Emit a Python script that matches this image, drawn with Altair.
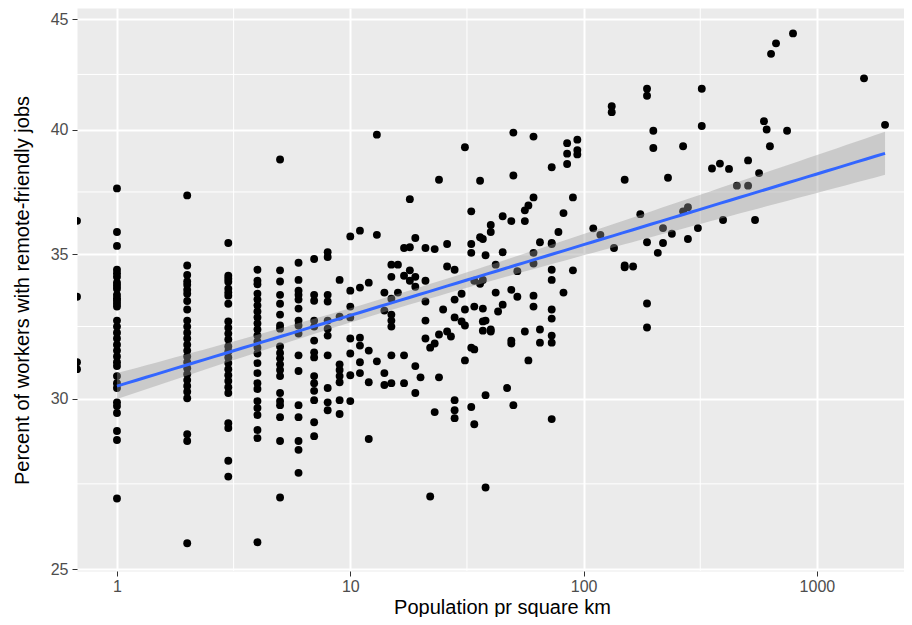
import altair as alt
import numpy as np
import pandas as pd

# Population density (per square km) -> percent of workers with remote-friendly jobs
groups = {
    0: [36.28, 33.45, 31.19, 30.96],
    1: [37.56, 35.85, 35.32, 34.43, 34.30, 34.17, 33.96, 33.85, 33.74, 33.52, 33.40, 33.31,
        33.20, 33.10, 32.61, 32.40, 32.19, 31.99, 31.78, 31.58, 31.38, 31.19, 31.06, 30.73,
        30.50, 30.34, 29.88, 29.76, 29.54, 28.98, 28.70, 26.96],
    2: [37.28, 34.59, 34.24, 34.00, 33.88, 33.70, 33.56, 33.30, 33.00, 32.61, 32.40, 32.19,
        31.99, 31.78, 31.58, 31.38, 31.19, 30.99, 30.79, 30.60, 30.41, 30.22, 30.01, 28.88,
        28.67, 25.70],
    3: [35.43, 34.21, 34.10, 33.99, 33.74, 33.60, 33.49, 33.20, 32.58, 32.36, 32.16, 31.96,
        31.72, 31.55, 31.35, 31.16, 30.96, 30.76, 30.57, 30.37, 30.18, 29.22, 29.07, 28.07,
        27.60],
    4: [34.43, 34.03, 33.90, 33.56, 33.35, 33.14, 32.93, 32.72, 32.51, 32.30, 32.09, 31.89,
        31.68, 31.48, 31.16, 30.83, 30.50, 30.31, 29.92, 29.70, 29.48, 29.01, 28.76, 25.73],
    5: [38.74, 34.41, 34.00, 33.52, 33.20, 32.82, 32.44, 32.33, 31.72, 31.50, 31.32, 31.12,
        30.93, 30.73, 30.18, 29.92, 29.79, 29.41, 28.67, 26.99],
    6: [34.69, 34.06, 33.67, 33.52, 33.35, 33.03, 32.61, 32.44, 32.16, 31.42, 30.90, 29.79,
        29.41, 28.67, 28.40, 27.71],
    7: [34.83, 33.52, 33.31, 32.61, 32.40, 31.92, 31.52, 31.35, 30.73, 30.50, 30.25, 29.95,
        29.25, 28.82],
    8: [35.08, 34.90, 33.52, 33.28, 32.61, 32.33, 32.09, 31.42, 30.34, 29.88, 29.63],
    9: [34.06, 32.75, 31.12, 30.93, 30.73, 30.53, 29.95, 29.51],
    10: [35.68, 33.67, 33.10, 32.72, 31.99, 31.48, 30.76, 29.92],
    11: [35.90, 33.78, 32.02, 31.75, 31.19, 30.83],
    12: [33.96, 31.58, 30.53, 28.73],
    13: [39.78, 35.74, 31.22],
    14: [33.60, 32.96, 30.83, 30.44],
    15: [34.62, 34.17, 33.38, 32.82, 32.61, 32.40, 31.42, 30.50],
    16: [34.62, 33.60],
    17: [35.24, 34.21, 31.42, 30.50],
    18: [37.13, 35.27, 34.41, 34.03],
    19: [35.62, 34.17, 33.81, 31.06, 30.18],
    20: [30.69],
    21: [35.24, 34.03, 33.28, 32.61, 31.99],
    22: [31.68, 27.02],
    23: [31.82, 35.20, 29.57],
    24: [37.91, 32.13, 30.69],
    25: [33.00],
    26: [35.39, 34.55, 32.23],
    27: [32.06],
    28: [34.43, 33.35, 32.72, 29.95, 29.63, 29.38],
    30: [33.56, 32.58],
    31: [39.25, 33.00, 32.44, 31.25],
    33: [36.65, 35.39, 35.06, 31.68, 29.73],
    34: [31.62, 34.03, 33.10, 29.19],
    36: [37.87, 35.65, 33.92],
    37: [35.58, 34.06, 33.03, 32.58, 32.26],
    38: [34.97, 32.61, 30.11, 27.28],
    40: [36.12, 35.85, 32.30, 32.23],
    42: [34.62, 33.60],
    43: [32.93],
    45: [36.46, 35.08, 33.17],
    47: [30.34],
    49: [36.27, 33.70, 31.92, 31.82],
    50: [39.87, 38.08, 29.79],
    52: [34.38, 33.45],
    56: [36.69, 36.27, 32.23],
    58: [36.88, 31.25],
    61: [37.20, 35.06, 34.66, 33.49, 33.10, 39.70],
    65: [35.46, 32.30, 31.85],
    73: [35.39, 35.43, 34.43, 34.06, 33.00, 32.68, 32.09, 31.85, 38.42, 29.35],
    78: [35.85],
    82: [33.60, 36.58],
    85: [39.42, 38.98, 38.55],
    90: [37.20, 34.41],
    94: [39.57, 39.13, 38.95],
    110: [35.99],
    118: [35.74],
    132: [41.01, 40.75],
    135: [35.24],
    150: [34.52, 34.59, 37.91],
    163: [34.55],
    175: [36.54],
    187: [35.46, 33.21, 32.37, 41.78, 41.47],
    199: [39.95, 39.22],
    208: [35.06],
    219: [36.00, 35.43],
    230: [37.99],
    239: [35.78],
    267: [36.65, 39.29],
    280: [36.81, 35.58],
    309: [36.00],
    321: [41.78, 40.15],
    355: [38.37],
    384: [38.57],
    396: [36.31],
    420: [38.35],
    454: [37.67],
    507: [38.70, 37.67],
    543: [36.31],
    565: [38.18],
    593: [40.36],
    609: [40.00],
    629: [39.29],
    636: [43.37],
    668: [43.86],
    745: [39.95],
    790: [44.33],
    1592: [42.25],
    1959: [40.20],
}

x_ticks = [1, 10, 100, 1000]
y_ticks = [25, 30, 35, 40, 45]
x_domain = [0.674, 2362]
y_domain = [24.95, 45.55]

density = []
pct = []
for k, vals in groups.items():
    for v in vals:
        density.append(k)
        pct.append(v)
df = pd.DataFrame({"density": density, "pct": pct})

# linear model on log10-log10 scale with 95% confidence band (like geom_smooth(method="lm"))
fit = df[df.density > 0]
X = np.log10(fit.density.values.astype(float))
Y = np.log10(fit.pct.values)
n = len(X)
b, a = np.polyfit(X, Y, 1)
resid = Y - (a + b * X)
s = np.sqrt((resid ** 2).sum() / (n - 2))
sxx = ((X - X.mean()) ** 2).sum()
grid = np.linspace(X.min(), X.max(), 80)
pred = a + b * grid
se = s * np.sqrt(1.0 / n + (grid - X.mean()) ** 2 / sxx)
tq = 1.967
band = pd.DataFrame({
    "density": 10 ** grid,
    "fit": 10 ** pred,
    "lo": 10 ** (pred - tq * se),
    "hi": 10 ** (pred + tq * se),
})

# minor breaks at the geometric midpoints (ggplot log scales)
x_minor = pd.DataFrame({"v": [np.sqrt(x_ticks[i] * x_ticks[i + 1]) for i in range(len(x_ticks) - 1)]})
y_minor = pd.DataFrame({"v": [np.sqrt(y_ticks[i] * y_ticks[i + 1]) for i in range(len(y_ticks) - 1)]})

FONT = "Liberation Sans"
xs = alt.Scale(type="log", domain=x_domain, nice=False)
ys = alt.Scale(type="log", domain=y_domain, nice=False)

x_axis = alt.Axis(values=x_ticks, format="d", grid=True, gridColor="white", gridWidth=2,
                  domain=False, tickColor="#333333", tickSize=5, tickWidth=1,
                  labelColor="#4D4D4D", labelFontSize=16, labelFont=FONT, labelPadding=2,
                  title="Population pr square km", titleFont=FONT, titleFontSize=20,
                  titleFontWeight="normal", titleColor="black",
                  titleX=425, titleY=42, titleBaseline="alphabetic", titleAlign="center")
y_axis = alt.Axis(values=y_ticks, format="d", grid=True, gridColor="white", gridWidth=2,
                  domain=False, tickColor="#333333", tickSize=5, tickWidth=1,
                  labelColor="#4D4D4D", labelFontSize=16, labelFont=FONT, labelPadding=4,
                  title="Percent of workers with remote-friendly jobs", titleFont=FONT,
                  titleFontSize=20, titleFontWeight="normal", titleColor="black",
                  titleX=-55, titleY=282, titleBaseline="middle", titleAlign="center", titleAngle=-90)

minor_x = alt.Chart(x_minor).mark_rule(color="white", strokeWidth=1).encode(
    x=alt.X("v:Q", scale=xs, axis=x_axis))
minor_y = alt.Chart(y_minor).mark_rule(color="white", strokeWidth=1).encode(
    y=alt.Y("v:Q", scale=ys, axis=y_axis))

points = alt.Chart(df).transform_calculate(
    xp=f"datum.density > 0 ? datum.density : {x_domain[0]}"
).mark_circle(color="black", size=62, opacity=1, clip=True).encode(
    x=alt.X("xp:Q", scale=xs, axis=x_axis),
    y=alt.Y("pct:Q", scale=ys, axis=y_axis),
)

ribbon = alt.Chart(band).mark_area(color="#999999", opacity=0.4).encode(
    x=alt.X("density:Q", scale=xs, axis=x_axis),
    y=alt.Y("lo:Q", scale=ys, axis=y_axis),
    y2="hi:Q",
)
line = alt.Chart(band).mark_line(color="#3366FF", strokeWidth=3).encode(
    x=alt.X("density:Q", scale=xs, axis=x_axis),
    y=alt.Y("fit:Q", scale=ys, axis=y_axis),
)

chart = alt.layer(minor_x, minor_y, points, ribbon, line).properties(
    width=827, height=563,
    autosize="none",
    padding={"left": 69, "top": 0, "right": 0, "bottom": 46},
    background="white",
).configure_view(fill="#EBEBEB", stroke="transparent")

chart.save("out.html", embed_options={"renderer": "svg", "actions": False})
